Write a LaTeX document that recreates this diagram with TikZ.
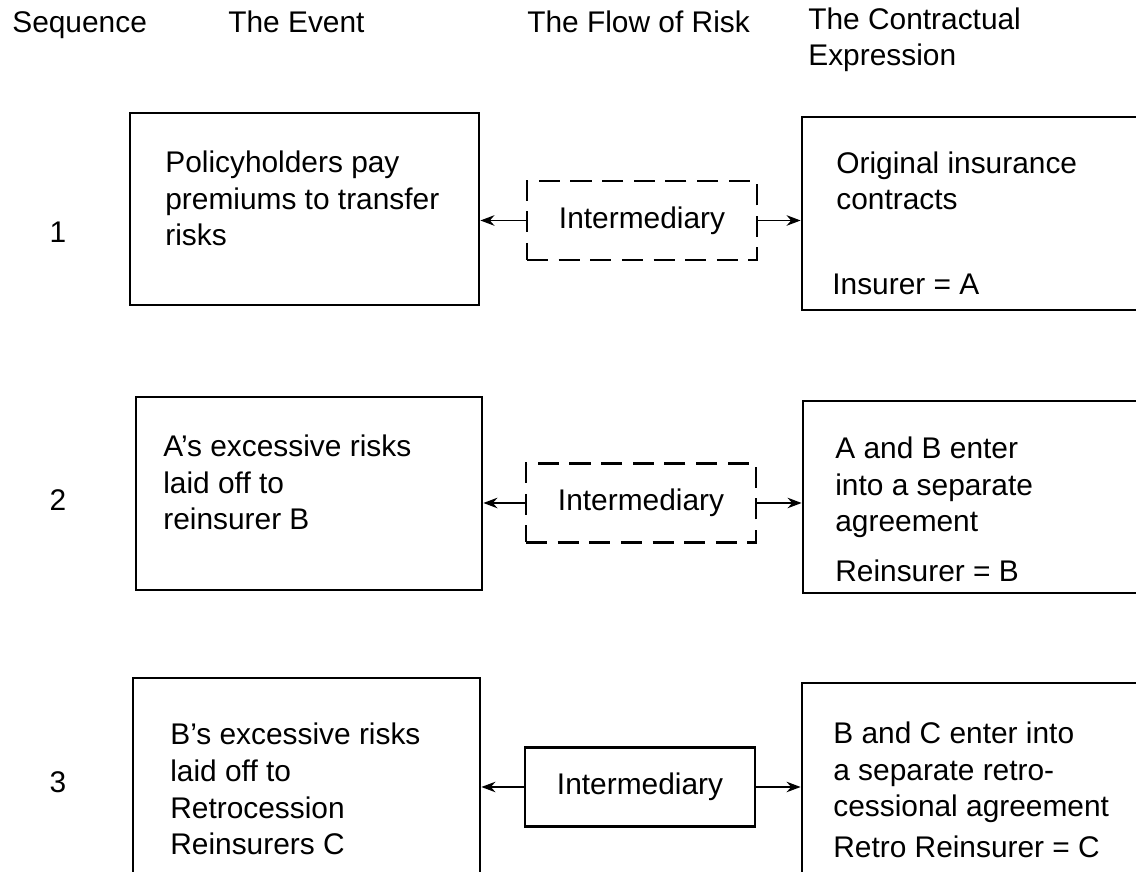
\documentclass[tikz,border=0pt]{standalone}
\usepackage{fontspec}
\setmainfont{Liberation Sans}
\usepackage{tikz}
\usetikzlibrary{positioning, arrows.meta}

\tikzset{
  evbox/.style={draw, line width=1.6pt, inner sep=0pt},
  interbox/.style={draw, line width=1.6pt, inner sep=0pt,
    minimum width=4.6cm, minimum height=1.58cm},
  dashbox/.style={interbox, dash pattern=on 12pt off 6pt},
  riskarrow/.style={line width=0.8pt, -{Stealth[length=8pt,width=6pt]}},
  txt/.style={anchor=base west, inner sep=0pt, align=left},
}

\begin{document}
\begin{tikzpicture}[font=\fontsize{17}{21}\selectfont]
  \clip (0,0) rectangle (22.72,17.44);
  \fill[white] (0,0) rectangle (22.72,17.44);

  % ── Column heads (base = last line) ──
  \node[txt] (hseq) at (0.24,16.78) {Sequence};
  \node[txt] (hevt) at (4.56,16.78) {The Event};
  \node[txt] (hflow) at (10.54,16.78) {The Flow of Risk};
  \node[txt] (hctr) at (16.16,16.12) {The Contractual\\Expression};

  % ── Sequence numbers ──
  \foreach \n/\y in {1/12.80, 2/7.44, 3/1.80}
    \node (seq\n) at (1.16,\y) {\n};

  % ── Row 1 ──
  \node[evbox, minimum width=6.98cm, minimum height=3.84cm] (ev1) at (6.09,13.26) {};
  \node[dashbox] (inter1) at (12.84,13.03) {Intermediary};
  \node[evbox, minimum width=6.96cm, minimum height=3.86cm] (ctr1) at (19.52,13.17) {};
  \node[txt] (ev1t) at (3.30,12.52) {Policyholders pay\\premiums to transfer\\risks};
  \node[txt] (ctr1t) at (16.72,13.24) {Original insurance\\contracts};
  \node[txt] (ctr1b) at (16.64,11.54) {Insurer = A};

  % ── Row 2 ──
  \node[evbox, minimum width=6.92cm, minimum height=3.86cm] (ev2) at (6.18,7.57) {};
  \node[dashbox] (inter2) at (12.82,7.38) {Intermediary};
  \node[evbox, minimum width=6.94cm, minimum height=3.84cm] (ctr2) at (19.53,7.50) {};
  \node[txt] (ev2t) at (3.26,6.84) {A's excessive risks\\laid off to\\reinsurer B};
  \node[txt] (ctr2t) at (16.70,6.80) {A and B enter\\into a separate\\agreement};
  \node[txt] (ctr2b) at (16.70,5.80) {Reinsurer = B};

  % ── Row 3 ──
  \node[evbox, minimum width=6.94cm, minimum height=4.24cm] (ev3) at (6.13,1.76) {};
  \node[interbox] (inter3) at (12.80,1.70) {Intermediary};
  \node[evbox, minimum width=6.96cm, minimum height=4.14cm] (ctr3) at (19.52,1.71) {};
  \node[txt] (ev3t) at (3.40,0.34) {B's excessive risks\\laid off to\\Retrocession\\Reinsurers C};
  \node[txt] (ctr3t) at (16.66,1.10) {B and C enter into\\a separate retro-\\cessional agreement};
  \node[txt] (ctr3b) at (16.66,0.28) {Retro Reinsurer = C};

  % ── Flow arrows ──
  \foreach \r in {1,2,3} {
    \draw[riskarrow] (inter\r.west) -- (inter\r.west -| ev\r.east);
    \draw[riskarrow] (inter\r.east) -- (inter\r.east -| ctr\r.west);
  }
\end{tikzpicture}
\end{document}
